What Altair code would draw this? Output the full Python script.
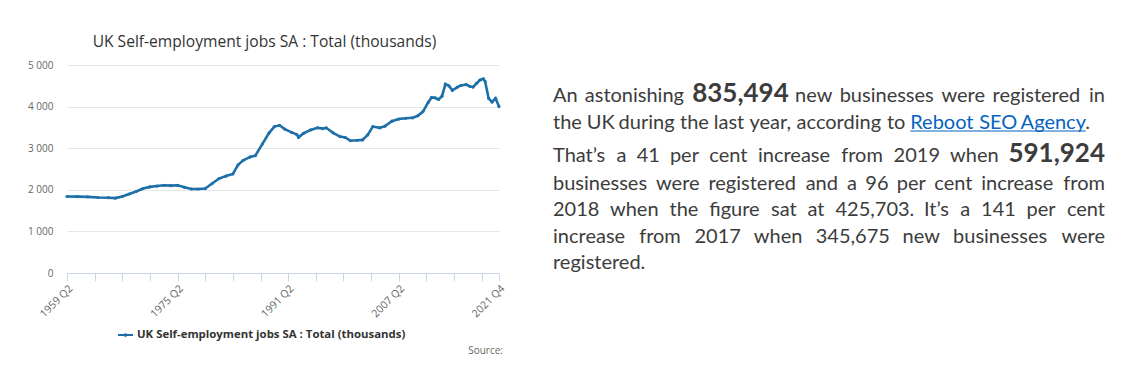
import altair as alt
import pandas as pd

# ---------------- data ----------------
quarter_index = [0, 6, 12, 18, 24, 28, 32, 36, 40, 44, 48, 52, 56, 60, 64, 68, 72, 76, 80,
                 84, 88, 92, 96, 99, 102, 106, 109, 113, 117, 120, 123, 126, 130, 133, 134,
                 137, 141, 145, 148, 150, 154, 158, 161, 164, 168, 171, 174, 177, 181, 184,
                 188, 192, 196, 200, 203, 206, 209, 211, 213, 215, 217, 219, 221, 223, 226,
                 228, 231, 233, 235, 237, 239, 241, 242, 244, 246, 248, 250]
jobs_thousands = [1840, 1835, 1830, 1815, 1810, 1800, 1840, 1900, 1960, 2030, 2070, 2090,
                  2110, 2100, 2110, 2060, 2020, 2020, 2030, 2150, 2270, 2330, 2380, 2600,
                  2710, 2790, 2820, 3100, 3370, 3520, 3550, 3460, 3380, 3330, 3260, 3360,
                  3440, 3490, 3470, 3490, 3370, 3280, 3260, 3180, 3190, 3200, 3320, 3520,
                  3490, 3530, 3650, 3700, 3720, 3730, 3780, 3880, 4100, 4220, 4210, 4170,
                  4250, 4540, 4500, 4390, 4470, 4510, 4530, 4490, 4470, 4560, 4640, 4670,
                  4600, 4200, 4110, 4200, 4000]

x_tick_quarters = list(range(0, 241, 16)) + [250]
x_label_quarters = [0, 64, 128, 192, 250]
x_label_texts = ["1959 Q2", "1975 Q2", "1991 Q2", "2007 Q2", "2021 Q4"]
y_tick_values = [0, 1000, 2000, 3000, 4000, 5000]

chart_title = "UK Self-employment jobs SA : Total (thousands)"
legend_label = "UK Self-employment jobs SA : Total (thousands)"
source_label = "Source:"

# paragraph: (word, style, attached-to-previous)   style: r=regular, b=bold, l=link
paragraph_lines = [
    [("An", "r"), ("astonishing", "r"), ("835,494", "b"), ("new", "r"), ("businesses", "r"),
     ("were", "r"), ("registered", "r"), ("in", "r")],
    [("the", "r"), ("UK", "r"), ("during", "r"), ("the", "r"), ("last", "r"), ("year,", "r"),
     ("according", "r"), ("to", "r"), ("Reboot", "l"), ("SEO", "l"), ("Agency", "l"), (".", "r", 1)],
    [("That\u2019s", "r"), ("a", "r"), ("41", "r"), ("per", "r"), ("cent", "r"), ("increase", "r"),
     ("from", "r"), ("2019", "r"), ("when", "r"), ("591,924", "b")],
    [("businesses", "r"), ("were", "r"), ("registered", "r"), ("and", "r"), ("a", "r"), ("96", "r"),
     ("per", "r"), ("cent", "r"), ("increase", "r"), ("from", "r")],
    [("2018", "r"), ("when", "r"), ("the", "r"), ("figure", "r"), ("sat", "r"), ("at", "r"),
     ("425,703.", "r"), ("It\u2019s", "r"), ("a", "r"), ("141", "r"), ("per", "r"), ("cent", "r")],
    [("increase", "r"), ("from", "r"), ("2017", "r"), ("when", "r"), ("345,675", "r"), ("new", "r"),
     ("businesses", "r"), ("were", "r")],
    [("registered.", "r")],
]
line_justify = [True, True, True, True, True, True, False]

# ---------------- layout ----------------
X0, Y0, W, H = 67, 65, 432, 208
CANVAS_W, CANVAS_H = 1128, 365
TEXT_LEFT = 553
line_rights = [1105, 1090, 1105, 1105, 1105, 1105, 1105]
line_baselines = [102, 129, 162, 190, 216, 243, 269]
REG_SIZE, BOLD_SIZE = 20, 26
TEXT_COLOR = "#3c3c3c"
LINK_COLOR = "#0563c1"
LINE_COLOR = "#1d6fa9"

# approximate Lato advance widths (em) used to lay justified words
_w = dict(a=.51, b=.57, c=.47, d=.57, e=.53, f=.33, g=.51, h=.57, i=.25, j=.25, k=.51, l=.25,
          m=.85, n=.57, o=.57, p=.57, q=.57, r=.37, s=.43, t=.36, u=.57, v=.51, w=.78, x=.5,
          y=.51, z=.46, A=.67, R=.62, S=.52, E=.56, O=.76, G=.72, T=.58, U=.72, K=.64, I=.28)
for dgt in "0123456789":
    _w[dgt] = .58
_w.update({",": .21, ".": .21, "\u2019": .22})


def text_width(s, size):
    return sum(_w.get(ch, .55) for ch in s) * size


rows = []
underline = None
for li, words in enumerate(paragraph_lines):
    sizes = [BOLD_SIZE if wd[1] == "b" else REG_SIZE for wd in words]
    widths = [text_width(wd[0], sz) for wd, sz in zip(words, sizes)]
    n_gaps = sum(1 for k, wd in enumerate(words) if k > 0 and len(wd) < 3)
    if line_justify[li] and n_gaps:
        gap = (line_rights[li] - TEXT_LEFT - sum(widths)) / n_gaps
    else:
        gap = 0.2 * REG_SIZE
    x = TEXT_LEFT
    for k, wd in enumerate(words):
        if k > 0 and len(wd) < 3:
            x += gap
        align = "left"
        px = x
        if line_justify[li] and k == len(words) - 1 and len(words) > 1:
            align, px = "right", line_rights[li]
        rows.append(dict(px=px - X0, py=line_baselines[li] - Y0, text=wd[0],
                         style=wd[1], align=align))
        if wd[1] == "l":
            if underline is None:
                underline = [x, x + widths[k], line_baselines[li] + 2]
            else:
                underline[1] = x + widths[k]
        x += widths[k]
words_df = pd.DataFrame(rows)

# ---------------- chart ----------------
series = pd.DataFrame({"q": quarter_index, "v": jobs_thousands})

x_expr = " : ".join(f"datum.value == {q} ? '{t}'" for q, t in zip(x_label_quarters, x_label_texts)) + " : ''"

line = alt.Chart(series).mark_line(
    color=LINE_COLOR, strokeWidth=2.6,
    point=alt.OverlayMarkDef(size=10, filled=True, color=LINE_COLOR)
).encode(
    x=alt.X("q:Q", scale=alt.Scale(domain=[0, 250], nice=False, zero=False),
            axis=alt.Axis(values=x_tick_quarters, labelExpr=x_expr, labelAngle=315,
                          labelAlign="right", labelBaseline="top", labelPadding=2,
                          labelFont="Open Sans", labelFontSize=10.5, labelColor="#666666",
                          labelOverlap=False, labelBound=False, labelFlush=False,
                          grid=False, domainColor="#ccd6eb", tickColor="#ccd6eb",
                          tickSize=8, title=None)),
    y=alt.Y("v:Q", scale=alt.Scale(domain=[0, 5000], nice=False),
            axis=alt.Axis(values=y_tick_values,
                          labelExpr="replace(format(datum.value, ','), ',', ' ')",
                          labelFont="Open Sans", labelFontSize=10, labelColor="#666666",
                          labelPadding=14, domain=False, ticks=False, grid=True,
                          gridColor="#e6e6e6", title=None)),
)

one = pd.DataFrame({"t": [chart_title]})
title = alt.Chart(one).mark_text(
    font="Open Sans", fontSize=15.6, color="#333333", align="center", baseline="middle"
).encode(x=alt.value(264.5 - X0), y=alt.value(42 - Y0), text="t:N")

leg_df = pd.DataFrame({"t": [legend_label]})
leg_rule = alt.Chart(leg_df).mark_rule(color=LINE_COLOR, strokeWidth=2).encode(
    x=alt.value(118 - X0), x2=alt.value(133 - X0), y=alt.value(335 - Y0))
leg_pt = alt.Chart(leg_df).mark_point(filled=True, size=14, color=LINE_COLOR, opacity=1).encode(
    x=alt.value(125.5 - X0), y=alt.value(335 - Y0))
leg_txt = alt.Chart(leg_df).mark_text(
    font="Open Sans", fontSize=11.4, fontWeight="bold", color="#333333", align="left",
    baseline="middle").encode(x=alt.value(137 - X0), y=alt.value(335 - Y0), text="t:N")

src = alt.Chart(pd.DataFrame({"t": [source_label]})).mark_text(
    font="Open Sans", fontSize=10, color="#666666", align="right", baseline="middle"
).encode(x=alt.value(503 - X0), y=alt.value(351 - Y0), text="t:N")

ul = alt.Chart(leg_df).mark_rule(color=LINK_COLOR, strokeWidth=1.2).encode(
    x=alt.value(underline[0] - X0), x2=alt.value(underline[1] - X0), y=alt.value(underline[2] - Y0))

style_fmt = {"r": (REG_SIZE, "normal", TEXT_COLOR), "b": (BOLD_SIZE, "bold", TEXT_COLOR),
             "l": (REG_SIZE, "normal", LINK_COLOR)}
word_layers = []
for (st, al), sub in words_df.groupby(["style", "align"]):
    fs, fw, col = style_fmt[st]
    word_layers.append(
        alt.Chart(sub).mark_text(font="Lato", fontSize=fs, fontWeight=fw, color=col,
                                 align=al, baseline="alphabetic").encode(
            x=alt.X("px:Q", scale=None, axis=None),
            y=alt.Y("py:Q", scale=None, axis=None),
            text="text:N"))

chart = alt.layer(line, title, leg_rule, leg_pt, leg_txt, src, ul, *word_layers).resolve_scale(
    x="independent", y="independent"
).properties(
    width=W, height=H,
    autosize=alt.AutoSizeParams(type="none"),
    padding={"left": X0, "top": Y0, "right": CANVAS_W - X0 - W, "bottom": CANVAS_H - Y0 - H},
    background="white",
).configure_view(stroke=None)

chart.save("out.html", embed_options={"renderer": "svg", "actions": False})
